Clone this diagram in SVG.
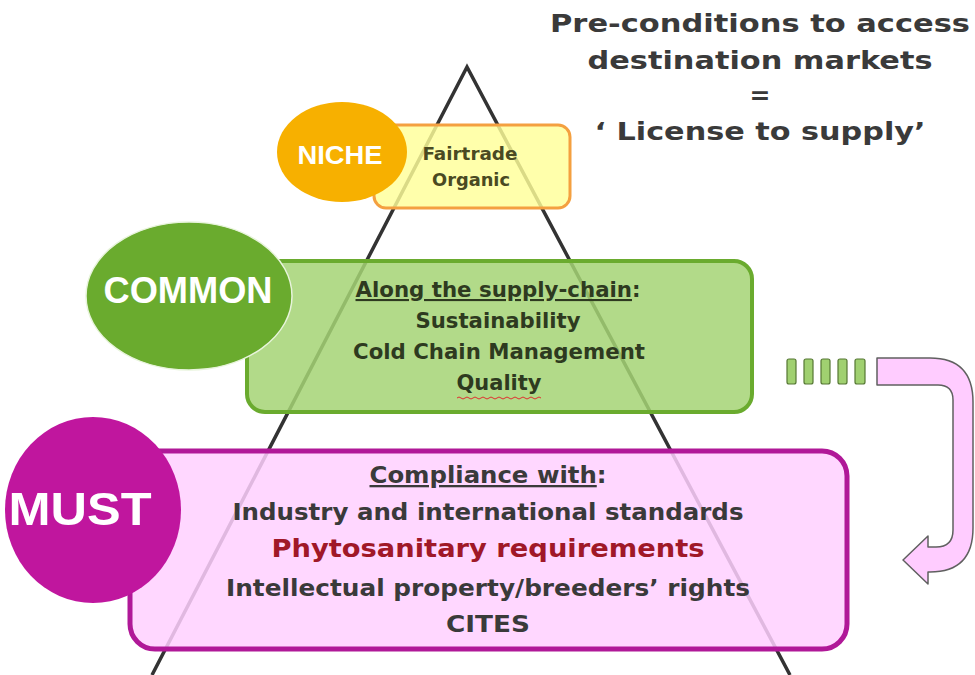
<svg xmlns="http://www.w3.org/2000/svg" width="975" height="675" viewBox="0 0 975 675">
<style>
.title{font-family:"DejaVu Sans",Verdana,sans-serif;font-weight:bold;font-size:25px;fill:#3a3a3a;text-anchor:middle}
.lbl{font-family:"Liberation Sans",Arial,sans-serif;font-weight:bold;fill:#ffffff;text-anchor:middle}
.body{font-family:"DejaVu Sans",sans-serif;font-stretch:condensed;font-weight:bold;text-anchor:middle}
.tri{stroke:#333333;stroke-width:3.5;fill:none}
</style>
<rect width="975" height="675" fill="#ffffff"/>
<g id="pyramid">
<path class="tri" d="M152,675 L467,67 L790,675"/>
</g>
<g id="title">
<text class="title" x="760" y="32" textLength="420" lengthAdjust="spacingAndGlyphs">Pre-conditions to access</text>
<text class="title" x="760" y="69" textLength="345" lengthAdjust="spacingAndGlyphs">destination markets</text>
<text class="title" x="760" y="104">=</text>
<text class="title" x="760" y="140" textLength="331" lengthAdjust="spacingAndGlyphs">‘ License to supply’</text>
</g>
<g id="niche">
<rect x="374" y="125" width="196" height="83" rx="12" fill="#ffff99" fill-opacity="0.82" stroke="#f4a040" stroke-width="3"/>
<ellipse cx="342" cy="152" rx="65" ry="50" fill="#f7b000"/>
<text class="lbl" x="340" y="164" font-size="25" textLength="85" lengthAdjust="spacingAndGlyphs">NICHE</text>
<text class="body" x="470" y="160" font-size="17" fill="#4a4a22" textLength="95" lengthAdjust="spacingAndGlyphs">Fairtrade</text>
<text class="body" x="471" y="186" font-size="17" fill="#4a4a22" textLength="78" lengthAdjust="spacingAndGlyphs">Organic</text>
</g>
<g id="common">
<rect x="247" y="261" width="505" height="151" rx="18" fill="#a5d474" fill-opacity="0.85" stroke="#6aab2e" stroke-width="4"/>
<ellipse cx="189" cy="296" rx="103" ry="74" fill="#6aab2e" stroke="#e8f4dc" stroke-width="1.5"/>
<text class="lbl" x="188" y="303" font-size="36" textLength="169" lengthAdjust="spacingAndGlyphs">COMMON</text>
<text class="body" x="498" y="297" font-size="21" fill="#2e3a20" textLength="285" lengthAdjust="spacingAndGlyphs"><tspan text-decoration="underline">Along the supply-chain</tspan>:</text>
<text class="body" x="498" y="328" font-size="21" fill="#2e3a20" textLength="165" lengthAdjust="spacingAndGlyphs">Sustainability</text>
<text class="body" x="499" y="359" font-size="21" fill="#2e3a20" textLength="292" lengthAdjust="spacingAndGlyphs">Cold Chain Management</text>
<text class="body" x="499" y="390" font-size="21" fill="#2e3a20" textLength="85" lengthAdjust="spacingAndGlyphs">Quality</text>
<path d="M457,398 q2,-2 4,0 t4,0 t4,0 t4,0 t4,0 t4,0 t4,0 t4,0 t4,0 t4,0 t4,0 t4,0 t4,0 t4,0 t4,0 t4,0 t4,0 t4,0 t4,0 t4,0 t4,0" fill="none" stroke="#e03030" stroke-width="1"/>
</g>
<g id="must">
<rect x="130" y="451" width="717" height="198" rx="25" fill="#ffd0ff" fill-opacity="0.85" stroke="#b01898" stroke-width="5"/>
<ellipse cx="93" cy="510" rx="88" ry="93" fill="#c0169e"/>
<text class="lbl" x="80" y="525" font-size="46" textLength="143" lengthAdjust="spacingAndGlyphs">MUST</text>
<text class="body" x="488" y="483" font-size="23" fill="#3a3a3a" textLength="237" lengthAdjust="spacingAndGlyphs"><tspan text-decoration="underline">Compliance with</tspan>:</text>
<text class="body" x="488" y="520" font-size="23" fill="#3a3a3a" textLength="511" lengthAdjust="spacingAndGlyphs">Industry and international standards</text>
<text class="body" x="488" y="557" font-size="24" fill="#a01828" textLength="433" lengthAdjust="spacingAndGlyphs">Phytosanitary requirements</text>
<text class="body" x="488" y="596" font-size="23" fill="#3a3a3a" textLength="524" lengthAdjust="spacingAndGlyphs">Intellectual property/breeders’ rights</text>
<text class="body" x="488" y="632" font-size="23" fill="#3a3a3a" textLength="84" lengthAdjust="spacingAndGlyphs">CITES</text>
</g>
<g id="connectors">
<g fill="#a0d070" stroke="#557733" stroke-width="1.2">
<rect x="787" y="359" width="9" height="25" rx="2"/>
<rect x="804" y="359" width="9" height="25" rx="2"/>
<rect x="821" y="359" width="9" height="25" rx="2"/>
<rect x="838" y="359" width="9" height="25" rx="2"/>
<rect x="855" y="359" width="10" height="25" rx="2"/>
</g>
<path d="M877,358 L930,358 Q973,358 973,402 L973,528 Q973,572 930,572 L928,572 L928,584 L903,560 L928,536 L928,547 L936,547 Q953,547 953,530 L953,400 Q953,385 938,385 L877,385 Z" fill="#ffccff" stroke="#606060" stroke-width="1.5" stroke-linejoin="round"/>
</g>
</svg>
